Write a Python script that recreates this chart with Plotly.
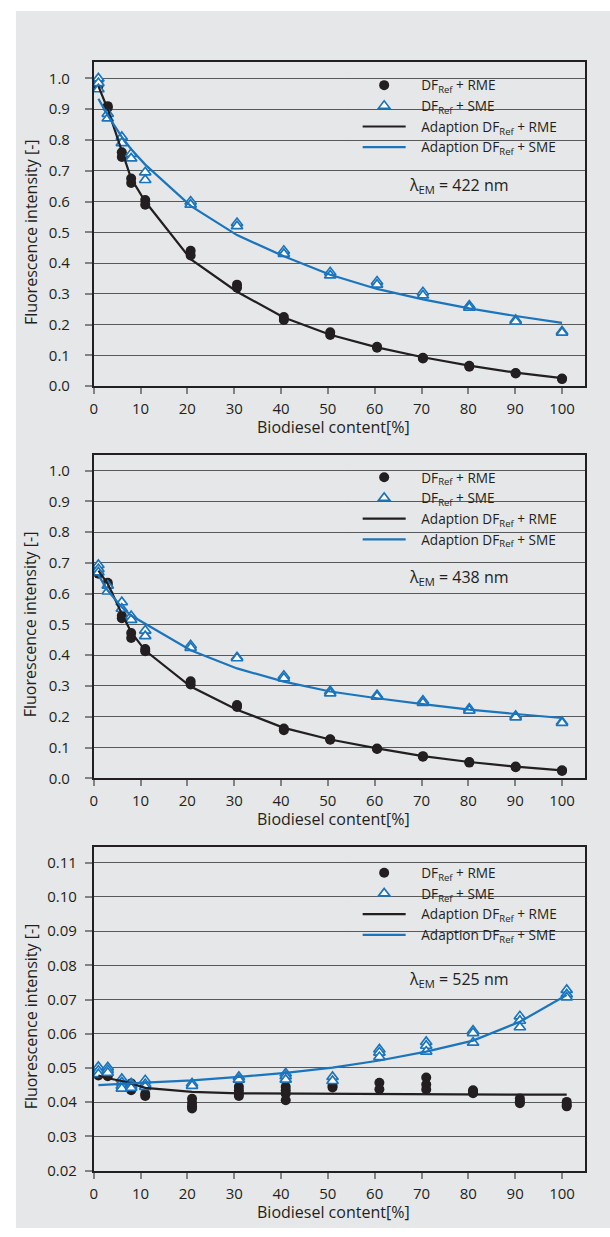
import plotly.graph_objects as go

W, H = 610, 1237

# ---------------- data ----------------
conc_422 = [1, 3, 6, 8, 11, 20.7, 30.6, 40.6, 50.5, 60.5, 70.3, 80.2, 90.1, 100]
conc_438 = [1, 3, 6, 8, 11, 20.7, 30.6, 40.6, 50.5, 60.5, 70.3, 80.2, 90.1, 100]
conc_525 = [1, 3, 6, 8, 11, 21, 31, 41, 51, 61, 71, 81, 91, 101]

rme_422 = [[0.99, 0.975], [0.91, 0.905], [0.76, 0.745], [0.675, 0.66], [0.605, 0.59],
           [0.44, 0.425], [0.33, 0.32], [0.225, 0.215], [0.175, 0.166], [0.128, 0.125],
           [0.092, 0.09], [0.066, 0.063], [0.043, 0.041], [0.025, 0.023]]
sme_422 = [[1.0, 0.985, 0.965], [0.885, 0.87], [0.81, 0.79], [0.755, 0.74], [0.695, 0.67],
           [0.6, 0.59], [0.53, 0.52], [0.44, 0.43], [0.37, 0.36], [0.34, 0.33],
           [0.305, 0.295], [0.262, 0.255], [0.215, 0.21], [0.178, 0.174]]
fit_rme_422 = [0.975, 0.9, 0.765, 0.675, 0.6, 0.413, 0.307, 0.223, 0.167, 0.126, 0.094, 0.067, 0.044, 0.026]
fit_sme_422 = [0.934, 0.88, 0.81, 0.77, 0.72, 0.586, 0.491, 0.422, 0.362, 0.316, 0.282, 0.253, 0.228, 0.206]

rme_438 = [[0.675, 0.665], [0.635, 0.628], [0.528, 0.52], [0.472, 0.456], [0.42, 0.413],
           [0.315, 0.305], [0.238, 0.232], [0.162, 0.156], [0.127, 0.125], [0.097, 0.095],
           [0.072, 0.07], [0.053, 0.051], [0.038, 0.036], [0.026, 0.024]]
sme_438 = [[0.693, 0.68, 0.669], [0.626, 0.607], [0.572, 0.551], [0.527, 0.515], [0.48, 0.462],
           [0.432, 0.424], [0.393, 0.39], [0.333, 0.325], [0.283, 0.276], [0.27, 0.265],
           [0.252, 0.245], [0.226, 0.22], [0.203, 0.198], [0.183, 0.18]]
fit_rme_438 = [0.675, 0.632, 0.535, 0.475, 0.415, 0.298, 0.223, 0.164, 0.126, 0.097, 0.072, 0.053, 0.038, 0.026]
fit_sme_438 = [0.66, 0.61, 0.556, 0.529, 0.502, 0.416, 0.357, 0.314, 0.282, 0.26, 0.241, 0.223, 0.209, 0.196]

rme_525 = [[0.0485, 0.0478], [0.0482, 0.0476], [0.046, 0.0452], [0.0455, 0.0445, 0.0435],
           [0.0425, 0.0418], [0.041, 0.0398, 0.0388, 0.0382], [0.0445, 0.0435, 0.0425, 0.0418],
           [0.0445, 0.0435, 0.0425, 0.0406], [0.0448, 0.0443], [0.0457, 0.0438],
           [0.0472, 0.0452, 0.0437], [0.0435, 0.043, 0.0426], [0.0411, 0.0403, 0.0397],
           [0.0401, 0.0393, 0.0388]]
sme_525 = [[0.0503, 0.0492, 0.0482], [0.0502, 0.0494, 0.0486], [0.0468, 0.0458, 0.0448, 0.044],
           [0.0455, 0.0448, 0.0442], [0.0464, 0.0453, 0.0445], [0.0455, 0.0448],
           [0.0474, 0.0466], [0.0484, 0.0476, 0.0466], [0.0474, 0.0462],
           [0.0554, 0.0545, 0.0532], [0.0576, 0.0565, 0.0548], [0.0609, 0.0602, 0.0574],
           [0.0651, 0.0638, 0.0619], [0.0728, 0.0715, 0.0706]]
fit_rme_525 = [0.0478, 0.047, 0.0462, 0.0455, 0.0442, 0.043, 0.0426, 0.0425, 0.0424, 0.0424, 0.0423, 0.0423, 0.0422, 0.0422]
fit_sme_525 = [0.045, 0.0452, 0.0454, 0.0455, 0.0457, 0.0464, 0.0474, 0.0486, 0.0501, 0.0522, 0.0548, 0.058, 0.0635, 0.0713]

x_ticks = [0, 10, 20, 30, 40, 50, 60, 70, 80, 90, 100]
wavelength_labels = ["422", "438", "525"]
x_title = "Biodiesel content[%]"
y_title = "Fluorescence intensity [-]"
names = ["DF<sub>Ref</sub> + RME", "DF<sub>Ref</sub> + SME",
         "Adaption DF<sub>Ref</sub> + RME", "Adaption DF<sub>Ref</sub> + SME"]

# ---------------- style ----------------
FONT = "Open Sans"
TXT = "#231f20"
BLACK = "#231f20"
BLUE = "#1b75bc"
BG = "#e6e7e8"
GRID = "#58595b"
PAD = "\u00a0\u00a0\u00a0"


def px_x(x):
    return x / W


def px_y(y):
    return 1 - y / H


def expand(conc, reps):
    xs, ys = [], []
    for c, r in zip(conc, reps):
        for v in r:
            xs.append(c)
            ys.append(v)
    return xs, ys


panels = [
    dict(conc=conc_422, rme=rme_422, sme=sme_422, frme=fit_rme_422, fsme=fit_sme_422,
         top=62.3, bot=389, yr=[0, 1.054], dt=0.1, fmt=".1f", ymid=234, lam_y=186.7,
         leg_off=8, standoff=12),
    dict(conc=conc_438, rme=rme_438, sme=sme_438, frme=fit_rme_438, fsme=fit_sme_438,
         top=458.3, bot=784, yr=[0, 1.0506], dt=0.1, fmt=".1f", ymid=629, lam_y=581.7,
         leg_off=7, standoff=12),
    dict(conc=conc_525, rme=rme_525, sme=sme_525, frme=fit_rme_525, fsme=fit_sme_525,
         top=853.7, bot=1179.3, yr=[0.02, 0.1144], dt=0.01, fmt=".2f", ymid=1024, lam_y=986.7,
         leg_off=10, standoff=5),
]

fig = go.Figure()
layout = dict(
    width=W, height=H,
    margin=dict(l=0, r=0, t=0, b=0),
    paper_bgcolor="white",
    plot_bgcolor="rgba(0,0,0,0)",
    font=dict(family=FONT, color=TXT, size=15),
    showlegend=True,
    shapes=[dict(type="rect", xref="paper", yref="paper", x0=px_x(12), x1=1.0,
                 y0=0, y1=px_y(11), fillcolor=BG, line=dict(width=0), layer="below")],
    annotations=[],
)

for i, p in enumerate(panels):
    k = "" if i == 0 else str(i + 1)
    xa, ya = "x" + k, "y" + k
    leg = "legend" + k
    cx, cy = expand(p["conc"], p["rme"])
    sx, sy = expand(p["conc"], p["sme"])
    fig.add_trace(go.Scatter(x=cx, y=cy, mode="markers", name=PAD + names[0], xaxis=xa, yaxis=ya,
                             legend=leg,
                             marker=dict(symbol="circle", size=10, color=BLACK,
                                         line=dict(width=0))))
    fig.add_trace(go.Scatter(x=sx, y=sy, mode="markers", name=PAD + names[1], xaxis=xa, yaxis=ya,
                             legend=leg,
                             marker=dict(symbol="triangle-up", size=10, color="white",
                                         line=dict(width=1.7, color=BLUE))))
    fig.add_trace(go.Scatter(x=p["conc"], y=p["frme"], mode="lines", name=PAD + names[2],
                             xaxis=xa, yaxis=ya, legend=leg,
                             line=dict(color=BLACK, width=2.2)))
    fig.add_trace(go.Scatter(x=p["conc"], y=p["fsme"], mode="lines", name=PAD + names[3],
                             xaxis=xa, yaxis=ya, legend=leg,
                             line=dict(color=BLUE, width=2.2)))

    dom_y = [px_y(p["bot"]), px_y(p["top"])]
    layout["xaxis" + k] = dict(
        domain=[px_x(90.3), px_x(585)], range=[0, 104.94], anchor=ya,
        tickmode="array", tickvals=x_ticks, ticks="outside", ticklen=6, tickwidth=1.5,
        tickcolor="#808285", showgrid=False, zeroline=False,
        showline=True, linecolor=BLACK, linewidth=1.6, mirror=True,
        tickfont=dict(size=15, color=TXT, family=FONT), ticklabelstandoff=2,
    )
    layout["yaxis" + k] = dict(
        domain=dom_y, range=p["yr"], anchor=xa, dtick=p["dt"], tick0=0, tickformat=p["fmt"],
        ticks="outside", ticklen=7, tickwidth=1.5, tickcolor="#808285",
        showgrid=True, gridcolor=GRID, gridwidth=1.3, zeroline=False,
        showline=True, linecolor=BLACK, linewidth=1.6, mirror=True,
        tickfont=dict(size=15, color=TXT, family=FONT), ticklabelstandoff=p["standoff"],
    )
    # legend cover area (legend box hides gridlines)
    layout["shapes"].append(dict(type="rect", xref="paper", yref="paper",
                                 x0=px_x(347), x1=px_x(571),
                                 y0=px_y(p["top"] + 100), y1=px_y(p["top"] + 1),
                                 fillcolor=BG, line=dict(width=0), layer="between"))
    layout[leg] = dict(
        x=px_x(356), y=px_y(p["top"] + p["leg_off"]), xanchor="left", yanchor="top",
        xref="paper", yref="paper",
        bgcolor="rgba(0,0,0,0)", borderwidth=0, itemwidth=43,
        font=dict(size=13.6, family=FONT, color=TXT), tracegroupgap=0,
    )
    layout["annotations"] += [
        dict(text="\u03bb<sub>EM</sub> = " + wavelength_labels[i] + " nm", xref="paper", yref="paper",
             x=px_x(457.5), y=px_y(p["lam_y"]), xanchor="center", yanchor="middle",
             showarrow=False, font=dict(size=16, family=FONT, color=TXT)),
        dict(text=x_title, xref="paper", yref="paper", x=px_x(332),
             y=px_y(p["bot"] + 41.5), xanchor="center", yanchor="middle", showarrow=False,
             font=dict(size=16, family=FONT, color=TXT)),
        dict(text=y_title, xref="paper", yref="paper", x=px_x(27), y=px_y(p["ymid"]),
             xanchor="center", yanchor="middle", textangle=-90, showarrow=False,
             font=dict(size=16, family=FONT, color=TXT)),
    ]

fig.update_layout(**layout)
fig.write_html("out.html", config={"displayModeBar": False},
               post_script="document.body.style.margin='0px';document.body.style.padding='0px';")
